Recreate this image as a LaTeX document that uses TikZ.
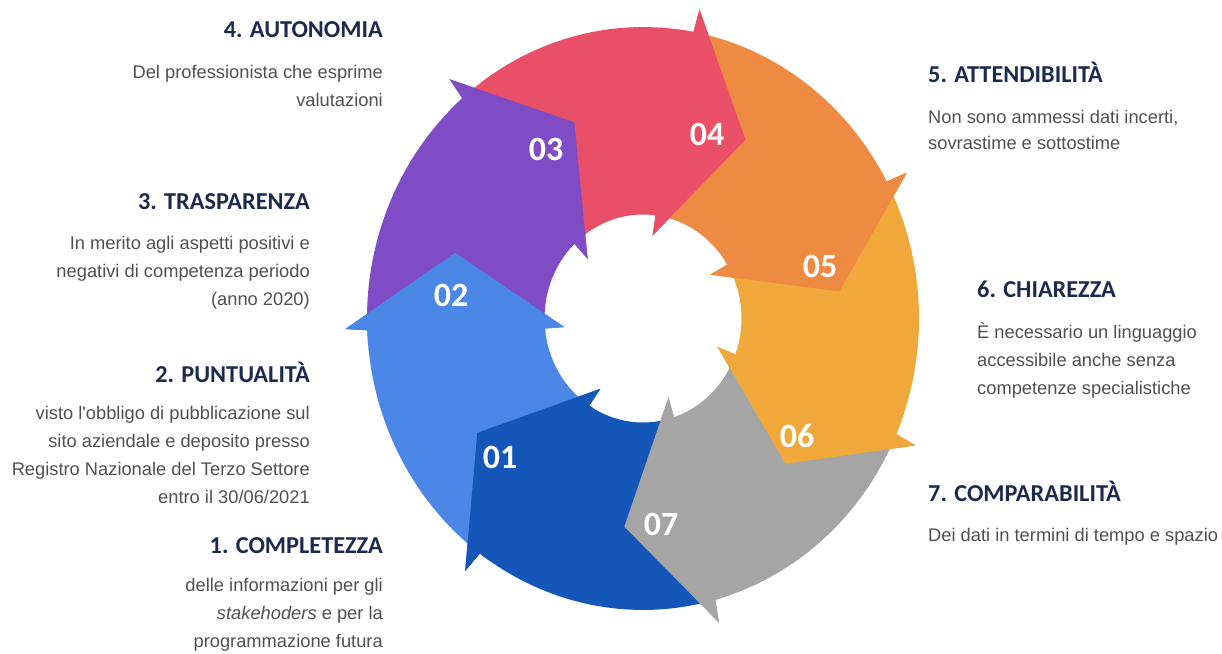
\documentclass[tikz,border=0pt]{standalone}
\usepackage{fontspec}
\setmainfont{Liberation Sans}[Ligatures=TeXOff]
\newfontfamily\headfont{Carlito}
\definecolor{cA}{HTML}{1557B9}
\definecolor{cB}{HTML}{4A87E6}
\definecolor{cC}{HTML}{7F4CC5}
\definecolor{cD}{HTML}{E94F67}
\definecolor{cE}{HTML}{EE8A41}
\definecolor{cF}{HTML}{F1A83B}
\definecolor{cG}{HTML}{A5A5A5}
\definecolor{navy}{HTML}{1B2A4E}
\definecolor{bodygray}{HTML}{505050}
\begin{document}
\begin{tikzpicture}[x=1pt,y=1pt,
  bodytxt/.style={inner sep=0pt, font=\fontsize{18.3}{22}\selectfont, text=bodygray},
  headtxt/.style={inner sep=0pt, font=\headfont\bfseries\fontsize{24.3}{26}\selectfont, text=navy},
  numtxt/.style={inner sep=0pt, font=\headfont\bfseries\fontsize{34}{36}\selectfont, text=white}]
\useasboundingbox (0,0) rectangle (1222,653);
\def\Ro{276}\def\Ri{98.5}\def\Rob{298}\def\Rib{79}\def\Rt{198}
\def\cx{643}\def\cy{334.5}\def\ey{1.056}
\pgfmathsetmacro\Roy{\ey*\Ro}
\pgfmathsetmacro\Riy{\ey*\Ri}
% bodies
\foreach \b/\c in {132.5/cC, 81.07/cD, 29.64/cE, -21.79/cF, -73.21/cG, -124.64/cA, -176.07/cB} {
  \pgfmathsetmacro\aTo{\b+51.43-1.6}
  \pgfmathsetmacro\aTi{\b+51.43+1.6}
  \pgfmathsetmacro\aHo{\b-1.6}
  \pgfmathsetmacro\aHi{\b+1.6}
  \pgfmathsetmacro\aBo{\b-2}
  \pgfmathsetmacro\aBi{\b+2}
  \pgfmathsetmacro\aT{\b-22.2}
  \fill[\c] ({\cx+\Ro*cos(\aTo)},{\cy+\ey*\Ro*sin(\aTo)})
    arc[start angle=\aTo, end angle=\aHo, x radius=\Ro pt, y radius=\Roy pt]
    -- ({\cx+\Rob*cos(\aBo)},{\cy+\ey*\Rob*sin(\aBo)})
    -- ({\cx+\Rt*cos(\aT)},{\cy+\ey*\Rt*sin(\aT)})
    -- ({\cx+\Rib*cos(\aBi)},{\cy+\ey*\Rib*sin(\aBi)})
    -- ({\cx+\Ri*cos(\aHi)},{\cy+\ey*\Ri*sin(\aHi)})
    arc[start angle=\aHi, end angle=\aTi, x radius=\Ri pt, y radius=\Riy pt]
    -- cycle;
}
% heads on top (extended slightly back into own body to hide seams)
\foreach \b/\c in {132.5/cC, 81.07/cD, 29.64/cE, -21.79/cF, -73.21/cG, -124.64/cA, -176.07/cB} {
  \pgfmathsetmacro\aHo{\b-1.6}
  \pgfmathsetmacro\aHi{\b+1.6}
  \pgfmathsetmacro\aXo{\b+1.4}
  \pgfmathsetmacro\aXi{\b+4.6}
  \pgfmathsetmacro\aBo{\b-2}
  \pgfmathsetmacro\aBi{\b+2}
  \pgfmathsetmacro\aT{\b-22.2}
  \fill[\c] ({\cx+\Ro*cos(\aXo)},{\cy+\ey*\Ro*sin(\aXo)})
    arc[start angle=\aXo, end angle=\aHo, x radius=\Ro pt, y radius=\Roy pt]
    -- ({\cx+\Rob*cos(\aBo)},{\cy+\ey*\Rob*sin(\aBo)})
    -- ({\cx+\Rt*cos(\aT)},{\cy+\ey*\Rt*sin(\aT)})
    -- ({\cx+\Rib*cos(\aBi)},{\cy+\ey*\Rib*sin(\aBi)})
    -- ({\cx+\Ri*cos(\aHi)},{\cy+\ey*\Ri*sin(\aHi)})
    arc[start angle=\aHi, end angle=\aXi, x radius=\Ri pt, y radius=\Riy pt]
    -- cycle;
}
% numbers
\node[numtxt] (n1) at (500,196) {01};
\node[numtxt] (n2) at (451,358) {02};
\node[numtxt] (n3) at (546,504) {03};
\node[numtxt] (n4) at (707,519) {04};
\node[numtxt] (n5) at (820,387) {05};
\node[numtxt] (n6) at (797,217) {06};
\node[numtxt] (n7) at (661,129) {07};
% left column
\node[headtxt, anchor=base east] (h4) at (383,615) {4. AUTONOMIA};
\node[bodytxt, anchor=base east] (t4a) at (383,574.5) {Del professionista che esprime};
\node[bodytxt, anchor=base east] (t4b) at (383,546.5) {valutazioni};
\node[headtxt, anchor=base east] (h3) at (310,443) {3. TRASPARENZA};
\node[bodytxt, anchor=base east] (t3a) at (310,403.5) {In merito agli aspetti positivi e};
\node[bodytxt, anchor=base east] (t3b) at (310,375.5) {negativi di competenza periodo};
\node[bodytxt, anchor=base east] (t3c) at (310,347.5) {(anno 2020)};
\node[headtxt, anchor=base east] (h2) at (310,270) {2. PUNTUALITÀ};
\node[bodytxt, anchor=base east] (t2a) at (310,233.5) {visto l'obbligo di pubblicazione sul};
\node[bodytxt, anchor=base east] (t2b) at (310,205.5) {sito aziendale e deposito presso};
\node[bodytxt, anchor=base east] (t2c) at (310,177.5) {Registro Nazionale del Terzo Settore};
\node[bodytxt, anchor=base east] (t2d) at (310,149.5) {entro il 30/06/2021};
\node[headtxt, anchor=base east] (h1) at (383,100) {1. COMPLETEZZA};
\node[bodytxt, anchor=base east] (t1a) at (383,61.5) {delle informazioni per gli};
\node[bodytxt, anchor=base east] (t1b) at (383,33.5) {\itshape stakehoders\upshape{} e per la};
\node[bodytxt, anchor=base east] (t1c) at (383,5.5) {programmazione futura};
% right column
\node[headtxt, anchor=base west] (h5) at (928,570) {5. ATTENDIBILITÀ};
\node[bodytxt, anchor=base west] (t5a) at (928,529.5) {Non sono ammessi dati incerti,};
\node[bodytxt, anchor=base west] (t5b) at (928,503.5) {sovrastime e sottostime};
\node[headtxt, anchor=base west] (h6) at (977,355) {6. CHIAREZZA};
\node[bodytxt, anchor=base west] (t6a) at (977,314.5) {È necessario un linguaggio};
\node[bodytxt, anchor=base west] (t6b) at (977,286.5) {accessibile anche senza};
\node[bodytxt, anchor=base west] (t6c) at (977,258.5) {competenze specialistiche};
\node[headtxt, anchor=base west] (h7) at (928,151) {7. COMPARABILITÀ};
\node[bodytxt, anchor=base west] (t7a) at (928,111.5) {Dei dati in termini di tempo e spazio};
\end{tikzpicture}
\end{document}
